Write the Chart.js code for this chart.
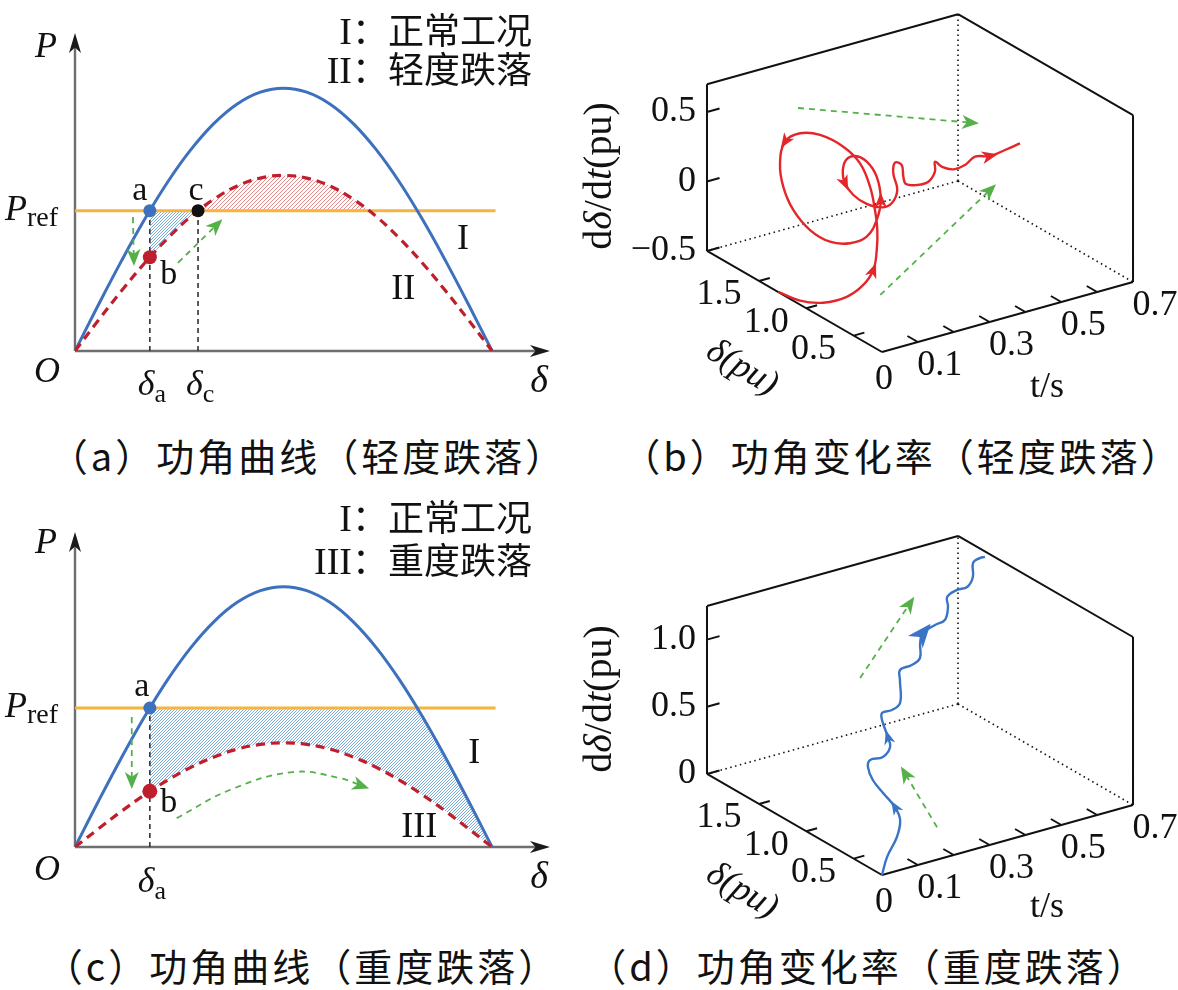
<!DOCTYPE html>
<html>
<head>
<meta charset="utf-8">
<title>功角曲线与功角变化率</title>
<script src="https://cdn.jsdelivr.net/npm/chart.js@4.4.1/dist/chart.umd.min.js"></script>
<style>
  html, body { margin: 0; padding: 0; background: #fff; }
  #fig { position: relative; width: 1178px; height: 990px; overflow: hidden; background: #fff; }
  #fig canvas { position: absolute; }
  .cap, .leg { position: absolute; white-space: nowrap; color: #111; font-family: "Noto Sans CJK SC", sans-serif; }
  .cap { font-size: 38px; line-height: 46px; letter-spacing: 3px; transform: translateX(-50%); }
  .leg { font-size: 36px; line-height: 40px; text-align: right; }
  .rn { font-family: "Liberation Serif", serif; font-size: 38px; }
</style>
</head>
<body>
<div id="fig">
  <canvas id="chartA" width="580" height="420" style="left:0;top:0"></canvas>
  <canvas id="chartB" width="598" height="420" style="left:580px;top:0"></canvas>
  <canvas id="chartC" width="580" height="430" style="left:0;top:490px"></canvas>
  <canvas id="chartD" width="598" height="420" style="left:580px;top:500px"></canvas>

  <div class="leg" style="right:646px;top:8px"><span class="rn">I</span>：正常工况</div>
  <div class="leg" style="right:646px;top:47px"><span class="rn">II</span>：轻度跌落</div>
  <div class="leg" style="right:646px;top:495px"><span class="rn">I</span>：正常工况</div>
  <div class="leg" style="right:646px;top:538px"><span class="rn">III</span>：重度跌落</div>

  <div class="cap" style="left:308px;top:432px">（a）功角曲线（轻度跌落）</div>
  <div class="cap" style="left:902px;top:432px">（b）功角变化率（轻度跌落）</div>
  <div class="cap" style="left:302px;top:942px">（c）功角曲线（重度跌落）</div>
  <div class="cap" style="left:868px;top:942px">（d）功角变化率（重度跌落）</div>
</div>

<script>
// ---- power-angle curves, δ in degrees ----
const deltaDeg = [0, 10, 20, 30, 40, 50, 60, 70, 80, 90, 100, 110, 120, 130, 140, 150, 160, 170, 180];
const pNormal  = [0, 0.174, 0.342, 0.5, 0.643, 0.766, 0.866, 0.94, 0.985, 1, 0.985, 0.94, 0.866, 0.766, 0.643, 0.5, 0.342, 0.174, 0];
const pMild    = [0, 0.116, 0.228, 0.334, 0.429, 0.512, 0.578, 0.628, 0.658, 0.668, 0.658, 0.628, 0.578, 0.512, 0.429, 0.334, 0.228, 0.116, 0];
const pSevere  = [0, 0.069, 0.137, 0.2, 0.257, 0.306, 0.346, 0.376, 0.394, 0.4, 0.394, 0.376, 0.346, 0.306, 0.257, 0.2, 0.137, 0.069, 0];
const pRef = 0.534;
const prefEnd = 181.5;
const deltaA = 32.3, deltaC = 53.1, deltaMildEnd = 126.9;
const pointBMild = 0.357, pointBSevere = 0.214;
// upper edge of the hatched area in (c): Pref, then the falling part of curve I
const hatchTopDeg = [32.3, 147.7, 150, 155, 160, 165, 170, 175, 180];
const hatchTopP   = [0.534, 0.534, 0.5, 0.423, 0.342, 0.259, 0.174, 0.087, 0];
// green guide arrows (δ, P)
const guideA1 = [[25.0, 0.51], [25.4, 0.339]];
const guideA2 = [[44.4, 0.335], [62.4, 0.491]];
const guideC1 = [[24.5, 0.499], [24.5, 0.238]];
const guideC2 = [[43.9, 0.111], [66.8, 0.219], [93.9, 0.288], [114.1, 0.265], [125.3, 0.23]];

// ---- trajectories (t, δ, dδ/dt) ----
const tB = [0, 0.014, 0.028, 0.042, 0.056, 0.07, 0.084, 0.098, 0.112, 0.126, 0.14, 0.154, 0.168, 0.182, 0.196, 0.21, 0.224, 0.238, 0.252, 0.266, 0.28, 0.294, 0.308, 0.322, 0.336, 0.35, 0.364, 0.378, 0.392, 0.406, 0.42, 0.434, 0.448, 0.462, 0.476, 0.49, 0.504, 0.518, 0.532, 0.546, 0.56, 0.574, 0.588, 0.602, 0.616, 0.63, 0.644, 0.658, 0.672, 0.686, 0.7];
const deltaB = [1.296, 1.12, 0.927, 0.732, 0.61, 0.557, 0.574, 0.621, 0.699, 0.804, 0.963, 1.193, 1.492, 1.757, 1.968, 2.074, 2.093, 2.04, 1.916, 1.758, 1.6, 1.476, 1.424, 1.434, 1.53, 1.688, 1.865, 2.013, 2.101, 2.13, 2.095, 2.007, 1.901, 1.849, 1.843, 1.938, 1.973, 1.955, 1.991, 2.016, 1.956, 1.886, 1.869, 1.922, 1.904, 1.834, 1.764, 1.711, 1.606, 1.5, 1.395];
const rateB = [-0.497, -0.502, -0.451, -0.342, -0.219, -0.101, 0.026, 0.142, 0.245, 0.361, 0.457, 0.476, 0.433, 0.331, 0.177, -0.03, -0.215, -0.372, -0.478, -0.51, -0.469, -0.383, -0.253, -0.123, -0.003, 0.033, -0.006, -0.103, -0.232, -0.337, -0.417, -0.457, -0.45, -0.41, -0.322, -0.25, -0.197, -0.217, -0.325, -0.398, -0.391, -0.35, -0.281, -0.24, -0.279, -0.281, -0.232, -0.162, -0.126, -0.051, 0.028];
const tD = [0, 0.023, 0.045, 0.068, 0.09, 0.113, 0.135, 0.158, 0.181, 0.203, 0.226, 0.248, 0.271, 0.294, 0.316, 0.339, 0.361, 0.384, 0.406, 0.429, 0.452, 0.474, 0.497, 0.519, 0.542, 0.565, 0.587, 0.61, 0.632, 0.655, 0.677, 0.7];
const deltaD = [0.2, 0.233, 0.213, 0.266, 0.405, 0.617, 0.809, 0.947, 1.012, 0.96, 0.971, 1.078, 1.227, 1.313, 1.293, 1.294, 1.379, 1.465, 1.424, 1.425, 1.51, 1.564, 1.523, 1.503, 1.557, 1.653, 1.633, 1.612, 1.635, 1.72, 1.732, 1.765];
const rateD = [0, 0.104, 0.244, 0.332, 0.356, 0.357, 0.359, 0.382, 0.392, 0.418, 0.471, 0.485, 0.534, 0.535, 0.549, 0.583, 0.703, 0.726, 0.763, 0.798, 0.858, 0.894, 0.953, 0.982, 1.04, 1.058, 1.102, 1.115, 1.164, 1.217, 1.232, 1.21];
// guide arrows in (t, δ, dδ/dt)
const guideB1 = [[0.184, 1.786, 0.5], [0.468, 0.991, 0.5]];
const guideB2 = [[0.092, 0.567, -0.3], [0.656, 1.512, -0.3]];
const guideD1 = [[0.361, 1.8, 0.547], [0.506, 1.8, 1.019]];
const guideD2 = [[0.259, 0.6, 0.0], [0.164, 0.6, 0.497]];

// ---- 3D axis ticks ----
const tTicks = [0.1, 0.2, 0.3, 0.4, 0.5, 0.6];
const tLabelValues = [0.1, 0.3, 0.5, 0.7];
const tLabels = ['0.1', '0.3', '0.5', '0.7'];
const deltaTicks = [0.5, 1.0, 1.5];
const deltaTickLabels = ['0.5', '1.0', '1.5'];
const rateTicksB = [-0.5, 0, 0.5];
const rateTickLabelsB = ['\u22120.5', '0', '0.5'];
const rateTicksD = [0, 0.5, 1.0];
const rateTickLabelsD = ['0', '0.5', '1.0'];

const SERIF = '"Liberation Serif", "Times New Roman", serif';
const font = (px, style) => (style ? style + ' ' : '') + px + 'px ' + SERIF;
const BLUE = '#3d70bd', RED = '#bf1f2c', ORANGE = '#f6b33e', GREEN = '#55b04a';
const RED3D = '#e4262b', BLUE3D = '#3a74c6';

// diagonal hatch tile: n lines per tile, one every `gap` px
function hatch(r, g, b, gap, n) {
  const size = gap * n;
  const c = document.createElement('canvas');
  c.width = c.height = size;
  const g2 = c.getContext('2d');
  const img = g2.createImageData(size, size);
  for (let y = 0; y < size; y++) {
    for (let x = 0; x < size; x++) {
      const k = (y * size + x) * 4;
      const on = (x + y) % gap === 0;
      img.data[k] = on ? r : 255;
      img.data[k + 1] = on ? g : 255;
      img.data[k + 2] = on ? b : 255;
      img.data[k + 3] = 255;
    }
  }
  g2.putImageData(img, 0, 0);
  return g2.createPattern(c, 'repeat');
}
const blueHatch = hatch(120, 172, 222, 3, 4);
const redHatch = hatch(226, 140, 140, 4, 4);

const xy = (xs, ys) => xs.map((x, i) => ({x, y: ys[i]}));
const pairs = arr => arr.map(([x, y]) => ({x, y}));

function dart(ctx, x, y, ux, uy, len, wid) {
  const nx = -uy, ny = ux, bx = x - ux * len, by = y - uy * len;
  ctx.beginPath();
  ctx.moveTo(x, y);
  ctx.lineTo(bx + nx * wid / 2, by + ny * wid / 2);
  ctx.lineTo(x - ux * len * 0.72, y - uy * len * 0.72);
  ctx.lineTo(bx - nx * wid / 2, by - ny * wid / 2);
  ctx.closePath();
  ctx.fill();
}

// text made of pieces with their own font / baseline shift
function rich(ctx, parts, x, y, align) {
  const widths = parts.map(p => { ctx.font = p.f; return ctx.measureText(p.s).width; });
  const w = widths.reduce((a, b) => a + b, 0);
  let cx = align === 'right' ? x - w : align === 'left' ? x : x - w / 2;
  ctx.textBaseline = 'middle';
  ctx.textAlign = 'left';
  parts.forEach((p, i) => { ctx.font = p.f; ctx.fillText(p.s, cx, y + (p.dy || 0)); cx += widths[i]; });
}

// labels for the two power-angle panels (anchored in data units, offset in px)
const IT = n => font(n, 'italic');
const deltaSub = s => [{s: 'δ', f: IT(36)}, {s: s, f: font(26), dy: 9}];
const decor = {
  chartA: [
    {parts: [{s: 'O', f: IT(36)}], x: 0, y: 0, dx: -28, dy: 22},
    {parts: [{s: 'δ', f: IT(38)}], x: 205, y: 0, dx: -11, dy: 31},
    {parts: [{s: 'P', f: IT(36)}], x: 0, y: 1.21, dx: -29, dy: 15},
    {parts: [{s: 'P', f: IT(36)}, {s: 'ref', f: font(28), dy: 8}], x: 0, y: pRef, dx: -17, dy: 0, align: 'right'},
    {parts: deltaSub('a'), x: deltaA, y: 0, dx: 2, dy: 35},
    {parts: deltaSub('c'), x: deltaC, y: 0, dx: 2, dy: 35},
    {parts: [{s: 'a', f: font(34)}], x: deltaA, y: pRef, dx: -10, dy: -20},
    {parts: [{s: 'c', f: font(34)}], x: deltaC, y: pRef, dx: -2, dy: -20},
    {parts: [{s: 'b', f: font(34)}], x: deltaA, y: pointBMild, dx: 19, dy: 18},
    {parts: [{s: 'I', f: font(36)}], x: 167.5, y: 0.424},
    {parts: [{s: 'II', f: font(36)}], x: 141.7, y: 0.233}
  ],
  chartC: [
    {parts: [{s: 'O', f: IT(36)}], x: 0, y: 0, dx: -28, dy: 24},
    {parts: [{s: 'δ', f: IT(38)}], x: 205, y: 0, dx: -11, dy: 31},
    {parts: [{s: 'P', f: IT(36)}], x: 0, y: 1.21, dx: -29, dy: 12},
    {parts: [{s: 'P', f: IT(36)}, {s: 'ref', f: font(28), dy: 8}], x: 0, y: pRef, dx: -17, dy: 0, align: 'right'},
    {parts: deltaSub('a'), x: deltaA, y: 0, dx: 2, dy: 36},
    {parts: [{s: 'a', f: font(34)}], x: deltaA, y: pRef, dx: -8, dy: -21},
    {parts: [{s: 'b', f: font(34)}], x: deltaA, y: pointBSevere, dx: 19, dy: 12},
    {parts: [{s: 'I', f: font(36)}], x: 172.3, y: 0.36},
    {parts: [{s: 'III', f: font(36)}], x: 148.6, y: 0.073}
  ]
};

const powerDecor = {
  id: 'powerDecor',
  beforeDatasetsDraw(chart) {
    const {ctx, chartArea: a, scales: {x, y}} = chart;
    const x0 = x.getPixelForValue(0), y0 = y.getPixelForValue(0);
    ctx.save();
    ctx.strokeStyle = '#6e6e6e';
    ctx.lineWidth = 2.4;
    ctx.beginPath();
    ctx.moveTo(x0, y0); ctx.lineTo(x0, a.top + 8);
    ctx.moveTo(x0, y0); ctx.lineTo(a.right - 8, y0);
    ctx.stroke();
    ctx.fillStyle = '#1a1a1a';
    dart(ctx, x0, a.top, 0, -1, 20, 12);
    dart(ctx, a.right, y0, 1, 0, 20, 12);
    ctx.restore();
  },
  afterDatasetsDraw(chart) {
    const {ctx, scales: {x, y}} = chart;
    ctx.save();
    chart.data.datasets.forEach((ds, i) => {
      if (!ds.arrow) return;
      const pts = chart.getDatasetMeta(i).data;
      const p = pts[pts.length - 1], q = pts[pts.length - 2];
      const dx = p.x - q.x, dy = p.y - q.y, L = Math.hypot(dx, dy);
      ctx.fillStyle = ds.borderColor;
      dart(ctx, p.x + dx / L * 4, p.y + dy / L * 4, dx / L, dy / L, 17, 14);
    });
    ctx.fillStyle = '#111';
    (decor[chart.canvas.id] || []).forEach(l => {
      rich(ctx, l.parts, x.getPixelForValue(l.x) + (l.dx || 0), y.getPixelForValue(l.y) + (l.dy || 0), l.align || 'center');
    });
    ctx.restore();
  }
};

const curve = (data, color, extra) => Object.assign({
  data, borderColor: color, borderWidth: 3, pointRadius: 0, tension: 0.4, fill: false
}, extra);
const dot = (x, y, color, r) => ({
  data: [{x, y}], showLine: false, pointRadius: r, pointBackgroundColor: color,
  pointBorderColor: color, pointBorderWidth: 0, order: 0
});
const guide = pts => curve(pairs(pts), GREEN, {borderWidth: 1.8, borderDash: [6, 5], order: 1, arrow: true});
const vline = (x0, y1) => curve(xy([x0, x0], [0, y1]), '#333', {borderWidth: 1.6, borderDash: [5, 4], tension: 0, order: 2});
// invisible edge whose area to another dataset is hatched
const hatchArea = (data, target, pattern) => ({
  data, borderColor: 'rgba(0,0,0,0)', backgroundColor: pattern, borderWidth: 1,
  pointRadius: 0, tension: 0, order: 9, fill: {target}
});

function powerChart(id, padding, datasets) {
  return new Chart(document.getElementById(id), {
    type: 'line',
    data: {datasets},
    options: {
      responsive: false,
      animation: false,
      layout: {padding},
      scales: {
        x: {type: 'linear', min: 0, max: 205, display: false},
        y: {type: 'linear', min: 0, max: 1.21, display: false}
      },
      plugins: {
        legend: {display: false},
        tooltip: {enabled: false},
        filler: {drawTime: 'beforeDatasetsDraw'}
      }
    },
    plugins: [powerDecor]
  });
}

powerChart('chartA', {left: 75, right: 30, top: 33, bottom: 69}, [
  hatchArea(xy([deltaA, deltaC], [pRef, pRef]), 3, blueHatch),
  hatchArea(xy([deltaC, deltaMildEnd], [pRef, pRef]), 3, redHatch),
  curve(xy(deltaDeg, pNormal), BLUE, {order: 4}),
  curve(xy(deltaDeg, pMild), RED, {borderWidth: 3.2, borderDash: [9, 6], order: 3}),
  curve(xy([0, prefEnd], [pRef, pRef]), ORANGE, {tension: 0, order: 5}),
  vline(deltaA, pRef),
  vline(deltaC, pRef),
  guide(guideA1),
  guide(guideA2),
  dot(deltaA, pRef, BLUE, 6.5),
  dot(deltaA, pointBMild, RED, 7),
  dot(deltaC, pRef, '#111', 6.5)
]);

powerChart('chartC', {left: 75, right: 30, top: 42, bottom: 73}, [
  hatchArea(xy(hatchTopDeg, hatchTopP), 2, blueHatch),
  curve(xy(deltaDeg, pNormal), BLUE, {order: 4}),
  curve(xy(deltaDeg, pSevere), RED, {borderWidth: 3.2, borderDash: [9, 6], order: 3}),
  curve(xy([0, prefEnd], [pRef, pRef]), ORANGE, {tension: 0, order: 5}),
  vline(deltaA, pRef),
  guide(guideC1),
  guide(guideC2),
  dot(deltaA, pRef, BLUE, 6.5),
  dot(deltaA, pointBSevere, RED, 7.5)
]);

// ---- oblique projection of (t, δ, dδ/dt) onto the panel plane ----
const views = {
  chartB: {ox: 302, oy: 352, tx: 358.6, ty: -100, dx: -94.6, dy: -54.6, zy: -139,
           tmax: 0.7, dmin: 0.2, dmax: 2.05, zmin: -0.5, zmax: 0.7,
           zTicks: rateTicksB, zLabels: rateTickLabelsB, titleY: 176, dTitleY: 368, tTitleY: 388},
  chartD: {ox: 302, oy: 375, tx: 358.6, ty: -100, dx: -94.6, dy: -54.6, zy: -134.4,
           tmax: 0.7, dmin: 0.2, dmax: 2.05, zmin: 0, zmax: 1.25,
           zTicks: rateTicksD, zLabels: rateTickLabelsD, titleY: 199, dTitleY: 391, tTitleY: 408}
};
function project(v, t, d, z) {
  return {
    x: v.ox + t * v.tx + (d - v.dmin) * v.dx,
    y: v.oy + t * v.ty + (d - v.dmin) * v.dy + (z - v.zmin) * v.zy
  };
}
const track = (v, ts, ds, zs) => ts.map((t, i) => project(v, t, ds[i], zs[i]));
const track3 = (v, pts) => pts.map(p => project(v, p[0], p[1], p[2]));

const box3d = {
  id: 'box3d',
  beforeDatasetsDraw(chart) {
    const v = views[chart.canvas.id];
    const {ctx} = chart;
    const sx = chart.scales.x, sy = chart.scales.y;
    const P = (t, d, z) => {
      const q = project(v, t, d, z);
      return [sx.getPixelForValue(q.x), sy.getPixelForValue(q.y)];
    };
    const seg = (a, b) => { ctx.moveTo(a[0], a[1]); ctx.lineTo(b[0], b[1]); };
    const T = v.tmax, D0 = v.dmin, D1 = v.dmax, Z0 = v.zmin, Z1 = v.zmax;
    ctx.save();
    ctx.strokeStyle = '#111';
    ctx.lineWidth = 1.6;
    ctx.setLineDash([1.5, 3.5]);
    ctx.beginPath();
    seg(P(T, D1, Z0), P(0, D1, Z0));
    seg(P(T, D1, Z0), P(T, D0, Z0));
    seg(P(T, D1, Z0), P(T, D1, Z1));
    ctx.stroke();
    ctx.setLineDash([]);
    ctx.lineWidth = 2;
    ctx.beginPath();
    seg(P(0, D0, Z0), P(0, D1, Z0));
    seg(P(0, D0, Z0), P(T, D0, Z0));
    seg(P(0, D1, Z0), P(0, D1, Z1));
    seg(P(T, D0, Z0), P(T, D0, Z1));
    seg(P(0, D1, Z1), P(T, D1, Z1));
    seg(P(T, D0, Z1), P(T, D1, Z1));
    v.zTicks.forEach(z => seg(P(0, D1, z), P(0.035, D1, z)));
    tTicks.forEach(t => seg(P(t, D0, Z0), P(t, D0 + 0.11, Z0)));
    deltaTicks.forEach(d => seg(P(0, d, Z0), P(0.03, d, Z0)));
    ctx.stroke();

    ctx.fillStyle = '#111';
    const tick = s => [{s, f: font(36)}];
    v.zTicks.forEach((z, i) => { const p = P(0, D1, z); rich(ctx, tick(v.zLabels[i]), p[0] - 11, p[1], 'right'); });
    tLabelValues.forEach((t, i) => { const p = P(t, D0, Z0); rich(ctx, tick(tLabels[i]), p[0] + 22, p[1] + 24, 'center'); });
    const o = P(0, D0, Z0);
    rich(ctx, tick('0'), o[0] + 2, o[1] + 28, 'center');
    deltaTicks.forEach((d, i) => { const p = P(0, d, Z0); rich(ctx, tick(deltaTickLabels[i]), p[0] - 40, p[1] + 14, 'center'); });

    ctx.save();
    ctx.translate(20, v.titleY);
    ctx.rotate(-Math.PI / 2);
    rich(ctx, [{s: 'd', f: font(40)}, {s: 'δ', f: IT(40)}, {s: '/d', f: font(40)}, {s: 't', f: IT(40)}, {s: '(pu)', f: font(40)}], 0, 0, 'center');
    ctx.restore();
    ctx.save();
    ctx.translate(162, v.dTitleY);
    ctx.rotate(31 * Math.PI / 180);
    rich(ctx, [{s: 'δ(pu)', f: IT(36)}], 0, 0, 'center');
    ctx.restore();
    rich(ctx, [{s: 't/s', f: font(36)}], 467, v.tTitleY, 'center');
    ctx.restore();
  },
  afterDatasetsDraw(chart) {
    const {ctx} = chart;
    ctx.save();
    chart.data.datasets.forEach((ds, i) => {
      const pts = chart.getDatasetMeta(i).data;
      ctx.fillStyle = ds.borderColor;
      (ds.heads || []).forEach((k, j) => {
        const a = pts[k - 1], b = pts[k + 1], p = pts[k];
        const dx = b.x - a.x, dy = b.y - a.y, L = Math.hypot(dx, dy);
        const len = ds.headLen[j], wid = len * 0.8;
        dart(ctx, p.x + dx / L * len * 0.5, p.y + dy / L * len * 0.5, dx / L, dy / L, len, wid);
      });
      if (ds.arrow) {
        const p = pts[pts.length - 1], q = pts[pts.length - 2];
        const dx = p.x - q.x, dy = p.y - q.y, L = Math.hypot(dx, dy);
        dart(ctx, p.x + dx / L * 4, p.y + dy / L * 4, dx / L, dy / L, 17, 14);
      }
    });
    ctx.restore();
  }
};

function phaseChart(id, datasets) {
  const c = document.getElementById(id);
  return new Chart(c, {
    type: 'scatter',
    data: {datasets},
    options: {
      responsive: false,
      animation: false,
      layout: {padding: 0},
      scales: {
        x: {type: 'linear', min: 0, max: c.width, display: false},
        y: {type: 'linear', min: 0, max: c.height, reverse: true, display: false}
      },
      plugins: {legend: {display: false}, tooltip: {enabled: false}}
    },
    plugins: [box3d]
  });
}
const path3d = (data, color, extra) => Object.assign({
  data, showLine: true, borderColor: color, backgroundColor: color, borderWidth: 2.4,
  pointRadius: 0, tension: 0.4
}, extra);
const guide3d = data => path3d(data, GREEN, {borderWidth: 1.8, borderDash: [6, 5], tension: 0, arrow: true});

phaseChart('chartB', [
  path3d(track(views.chartB, tB, deltaB, rateB), RED3D, {heads: [5, 14, 23, 29, 48], headLen: [15, 15, 15, 15, 16]}),
  guide3d(track3(views.chartB, guideB1)),
  guide3d(track3(views.chartB, guideB2))
]);
phaseChart('chartD', [
  path3d(track(views.chartD, tD, deltaD, rateD), BLUE3D, {heads: [4, 11, 21], headLen: [14, 14, 24]}),
  guide3d(track3(views.chartD, guideD1)),
  guide3d(track3(views.chartD, guideD2))
]);
</script>
</body>
</html>
